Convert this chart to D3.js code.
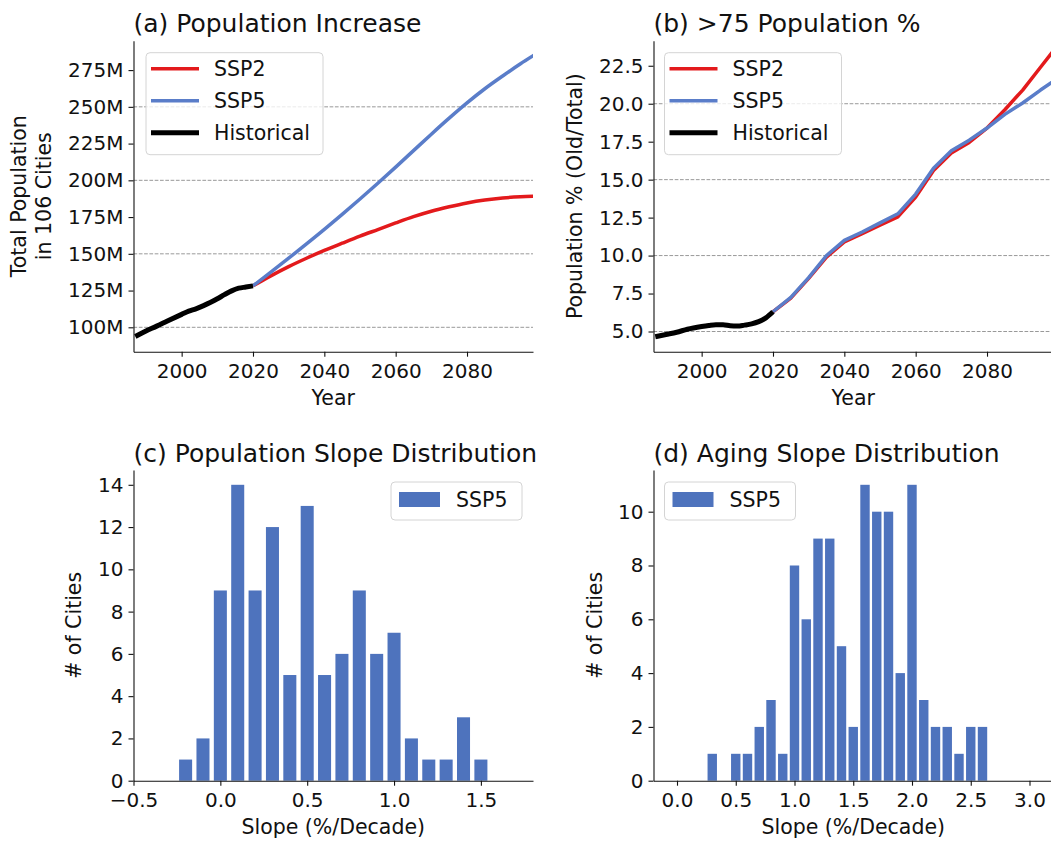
<!DOCTYPE html>
<html>
<head>
<meta charset="utf-8">
<script src="https://cdn.jsdelivr.net/npm/d3@7"></script>
<style>
body { margin: 0; background: #fff; }
svg { font-family: "DejaVu Sans", sans-serif; }
</style>
</head>
<body>
<svg id="chart" width="1051" height="842"></svg>
<script>
// ---- data ----
const histYears = [1987, 1990, 1993, 1996, 2000, 2002, 2004, 2006, 2008, 2010, 2012, 2014, 2016, 2018, 2020];
const histPop = [93.8, 97.5, 100.8, 104.3, 108.8, 111.0, 112.6, 114.6, 116.8, 119.4, 122.2, 124.8, 126.6, 127.4, 128.2];
const histOld = [4.65, 4.8, 4.95, 5.15, 5.33, 5.4, 5.45, 5.45, 5.38, 5.36, 5.42, 5.5, 5.65, 5.9, 6.3];

const projYears = [2020, 2025, 2030, 2035, 2040, 2045, 2050, 2055, 2060, 2065, 2070, 2075, 2080, 2085, 2090, 2095, 2100];
const ssp2Pop = [128.2, 135.0, 141.3, 147.0, 152.3, 157.2, 162.0, 166.5, 171.0, 175.3, 179.0, 182.0, 184.6, 186.6, 188.0, 188.8, 189.2];
const ssp5Pop = [128.2, 137.5, 147.0, 156.7, 166.6, 176.8, 187.3, 198.0, 209.0, 220.2, 231.4, 242.3, 252.7, 262.3, 271.0, 279.3, 287.0];
const ssp2Old = [6.3, 7.2, 8.5, 9.9, 10.9, 11.45, 12.0, 12.55, 13.85, 15.6, 16.75, 17.45, 18.4, 19.6, 20.9, 22.4, 23.9];
const ssp5Old = [6.3, 7.25, 8.55, 10.0, 11.0, 11.55, 12.15, 12.75, 14.05, 15.75, 16.9, 17.6, 18.4, 19.3, 20.05, 20.9, 21.7];

const popSlope = [-0.2, -0.1, 0.0, 0.1, 0.2, 0.3, 0.4, 0.5, 0.6, 0.7, 0.8, 0.9, 1.0, 1.1, 1.2, 1.3, 1.4, 1.5];
const popSlopeCount = [1, 2, 9, 14, 9, 12, 5, 13, 5, 6, 9, 6, 7, 2, 1, 1, 3, 1];
const ageSlope = [0.3, 0.4, 0.5, 0.6, 0.7, 0.8, 0.9, 1.0, 1.1, 1.2, 1.3, 1.4, 1.5, 1.6, 1.7, 1.8, 1.9, 2.0, 2.1, 2.2, 2.3, 2.4, 2.5, 2.6];
const ageSlopeCount = [1, 0, 1, 1, 2, 3, 1, 8, 6, 9, 9, 5, 2, 11, 10, 10, 4, 11, 3, 2, 2, 1, 2, 2];

const popTicks = [100, 125, 150, 175, 200, 225, 250, 275];
const popGrid = [100, 150, 200, 250];
const oldTicks = [5, 7.5, 10, 12.5, 15, 17.5, 20, 22.5];
const oldGrid = [5, 10, 15, 20];
const yearTicks = [2000, 2020, 2040, 2060, 2080];
const popSlopeTicks = [-0.5, 0, 0.5, 1, 1.5];
const ageSlopeTicks = [0, 0.5, 1, 1.5, 2, 2.5, 3];
const popCountTicks = [0, 2, 4, 6, 8, 10, 12, 14];
const ageCountTicks = [0, 2, 4, 6, 8, 10];

const red = "#e31a1c", blue = "#5a7dc9", barBlue = "#4e73bd", ink = "#111";

const svg = d3.select("#chart");

function panel(left, top, right, bottom, title) {
    const g = svg.append("g").attr("transform", "translate(" + left + "," + top + ")");
    const w = right - left, h = bottom - top;
    const id = "clip" + Math.round(left) + "_" + Math.round(top);
    g.append("clipPath").attr("id", id)
        .append("rect").attr("width", w).attr("height", h);
    g.append("text")
        .attr("x", 0)
        .attr("y", -8.5)
        .attr("font-size", "25px")
        .attr("fill", ink)
        .text(title);
    return {g: g, w: w, h: h, clip: "url(#" + id + ")"};
}

function styleAxis(sel) {
    sel.select(".domain").attr("stroke", ink).attr("stroke-width", 1.1);
    sel.selectAll(".tick line").attr("stroke", ink).attr("stroke-width", 1.1);
    sel.selectAll(".tick text").attr("fill", ink).attr("font-size", "20px")
        .attr("font-family", "DejaVu Sans, sans-serif");
}

function axes(p, x, y, xt, yt, xf, yf) {
    p.g.append("g")
        .attr("transform", "translate(0," + p.h + ")")
        .call(d3.axisBottom(x).tickValues(xt).tickFormat(xf).tickSize(5).tickSizeOuter(0).tickPadding(7))
        .call(styleAxis);
    p.g.append("g")
        .call(d3.axisLeft(y).tickValues(yt).tickFormat(yf).tickSize(5).tickSizeOuter(0).tickPadding(5))
        .call(styleAxis);
}

function grid(p, y, vals) {
    p.g.append("g").selectAll("line")
        .data(vals)
        .enter()
        .append("line")
            .attr("x1", 0)
            .attr("x2", p.w)
            .attr("y1", (d) => y(d))
            .attr("y2", (d) => y(d))
            .attr("stroke", "#999")
            .attr("stroke-width", 1)
            .attr("stroke-dasharray", "3.7,1.6");
}

function ylabel(p, lines, xs) {
    lines.forEach((t, i) => {
        p.g.append("text")
            .attr("transform", "translate(" + xs[i] + "," + (p.h / 2) + ") rotate(-90)")
            .attr("text-anchor", "middle")
            .attr("font-size", "20.5px")
            .attr("fill", ink)
            .text(t);
    });
}

function xlabel(p, t) {
    p.g.append("text")
        .attr("x", p.w / 2)
        .attr("y", p.h + 53.5)
        .attr("text-anchor", "middle")
        .attr("font-size", "20.5px")
        .attr("fill", ink)
        .text(t);
}

function lineLegend(p, x, y) {
    const items = [
        {label: "SSP2", color: red, width: 3.5},
        {label: "SSP5", color: blue, width: 3.5},
        {label: "Historical", color: "#000", width: 5}
    ];
    const lg = p.g.append("g").attr("transform", "translate(" + x + "," + y + ")");
    lg.append("rect")
        .attr("width", 177).attr("height", 102).attr("rx", 4)
        .attr("fill", "#fff").attr("fill-opacity", 0.8)
        .attr("stroke", "#d4d4d4").attr("stroke-width", 1);
    items.forEach((it, i) => {
        const cy = 16 + i * 32;
        lg.append("line")
            .attr("x1", 5).attr("x2", 53).attr("y1", cy).attr("y2", cy)
            .attr("stroke", it.color).attr("stroke-width", it.width);
        lg.append("text")
            .attr("x", 68).attr("y", cy).attr("dy", "0.36em")
            .attr("font-size", "20.5px").attr("fill", ink)
            .text(it.label);
    });
}

function barLegend(p, x, y) {
    const lg = p.g.append("g").attr("transform", "translate(" + x + "," + y + ")");
    lg.append("rect")
        .attr("width", 131).attr("height", 38).attr("rx", 4)
        .attr("fill", "#fff").attr("fill-opacity", 0.8)
        .attr("stroke", "#d4d4d4").attr("stroke-width", 1);
    lg.append("rect")
        .attr("x", 8).attr("y", 10).attr("width", 41).attr("height", 15)
        .attr("fill", barBlue);
    lg.append("text")
        .attr("x", 65).attr("y", 18).attr("dy", "0.36em")
        .attr("font-size", "20.5px").attr("fill", ink)
        .text("SSP5");
}

function drawLine(p, x, y, xs, ys, color, width, curve) {
    p.g.append("path")
        .datum(d3.zip(xs, ys))
        .attr("clip-path", p.clip)
        .attr("fill", "none")
        .attr("stroke", color)
        .attr("stroke-width", width)
        .attr("stroke-linejoin", "round")
        .attr("d", d3.line().curve(curve).x((d) => x(d[0])).y((d) => y(d[1])));
}

function drawBars(p, x, y, centers, counts, bw) {
    p.g.append("g").selectAll("rect")
        .data(d3.zip(centers, counts))
        .enter()
        .append("rect")
            .attr("x", (d) => x(d[0] - bw / 2))
            .attr("y", (d) => y(d[1]))
            .attr("width", x(bw) - x(0))
            .attr("height", (d) => y(0) - y(d[1]))
            .attr("fill", barBlue);
}

const fmt1 = d3.format(".1f");
const yearDomain = [1986.5, 2098.5];

// (a) population increase
const pa = panel(133.5, 40.7, 533, 351.7, "(a) Population Increase");
const xa = d3.scaleLinear().domain(yearDomain).range([0, pa.w]);
const ya = d3.scaleLinear().domain([83.4, 295.0]).range([pa.h, 0]);
grid(pa, ya, popGrid);
drawLine(pa, xa, ya, projYears, ssp2Pop, red, 3.5, d3.curveMonotoneX);
drawLine(pa, xa, ya, projYears, ssp5Pop, blue, 3.5, d3.curveMonotoneX);
drawLine(pa, xa, ya, histYears, histPop, "#000", 5, d3.curveMonotoneX);
axes(pa, xa, ya, yearTicks, popTicks, d3.format("d"), (d) => d + "M");
lineLegend(pa, 12.5, 12);
ylabel(pa, ["Total Population", "in 106 Cities"], [26 - 133.5, 51 - 133.5]);
xlabel(pa, "Year");

// (b) >75 population share
const pb = panel(653.5, 40.7, 1053, 351.7, "(b) >75 Population %");
const xb = d3.scaleLinear().domain(yearDomain).range([0, pb.w]);
const yb = d3.scaleLinear().domain([3.67, 24.15]).range([pb.h, 0]);
grid(pb, yb, oldGrid);
drawLine(pb, xb, yb, projYears, ssp2Old, red, 3.5, d3.curveLinear);
drawLine(pb, xb, yb, projYears, ssp5Old, blue, 3.5, d3.curveLinear);
drawLine(pb, xb, yb, histYears, histOld, "#000", 5, d3.curveMonotoneX);
axes(pb, xb, yb, yearTicks, oldTicks, d3.format("d"), fmt1);
lineLegend(pb, 11, 12);
ylabel(pb, ["Population % (Old/Total)"], [582 - 653.5]);
xlabel(pb, "Year");

// (c) population slope histogram
const pc = panel(133.5, 470, 533, 780.7, "(c) Population Slope Distribution");
const xc = d3.scaleLinear().domain([-0.5, 1.8]).range([0, pc.w]);
const yc = d3.scaleLinear().domain([0, 14.7]).range([pc.h, 0]);
drawBars(pc, xc, yc, popSlope, popSlopeCount, 0.075);
axes(pc, xc, yc, popSlopeTicks, popCountTicks, fmt1, d3.format("d"));
barLegend(pc, pc.w - 11 - 131, 12);
ylabel(pc, ["# of Cities"], [81 - 133.5]);
xlabel(pc, "Slope (%/Decade)");

// (d) aging slope histogram
const pd = panel(653.5, 470, 1053, 780.7, "(d) Aging Slope Distribution");
const xd = d3.scaleLinear().domain([-0.2, 3.2]).range([0, pd.w]);
const yd = d3.scaleLinear().domain([0, 11.55]).range([pd.h, 0]);
drawBars(pd, xd, yd, ageSlope, ageSlopeCount, 0.08);
axes(pd, xd, yd, ageSlopeTicks, ageCountTicks, fmt1, d3.format("d"));
barLegend(pd, 11, 12);
ylabel(pd, ["# of Cities"], [602 - 653.5]);
xlabel(pd, "Slope (%/Decade)");
</script>
</body>
</html>
